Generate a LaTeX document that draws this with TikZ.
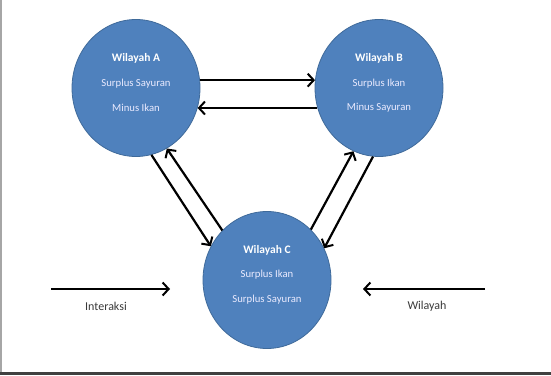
\documentclass[tikz,border=0pt]{standalone}
\usepackage{fontspec}
\setmainfont{Carlito}
\usetikzlibrary{arrows.meta,shapes.geometric}
\definecolor{regfill}{HTML}{4F81BD}
\definecolor{regdraw}{HTML}{3F6A9A}
\definecolor{legtext}{HTML}{3A3A3A}
\tikzset{
  region/.style={ellipse,fill=regfill,draw=regdraw,line width=0.8pt,minimum width=128pt,minimum height=137pt,inner sep=0pt},
  rtitle/.style={text=white,font=\fontsize{11.5}{13}\selectfont\bfseries},
  rline/.style={text=white!92!blue,font=\fontsize{10.7}{12}\selectfont},
  flow/.style={line width=2.2pt,-{Straight Barb[length=6pt,width=13pt,line width=2pt]}},
  legend/.style={text=legtext,font=\fontsize{12}{14}\selectfont}
}
\begin{document}
\begin{tikzpicture}[x=1pt,y=1pt]
\useasboundingbox (0,0) rectangle (551,375);
\fill[white] (0,0) rectangle (551,375);
\fill[gray!70] (0,0) rectangle (1.5,375);
\fill[black!75] (0,0) rectangle (551,3.5);

\node[region] (A) at (136,287) {};
\node[region] (B) at (379,287) {};
\node[region] (C) at (267,95) {};

\node[rtitle] (At) at ([yshift=30pt]A.center) {Wilayah A};
\node[rline] (A1) at ([yshift=4pt]A.center) {Surplus Sayuran};
\node[rline] (A2) at ([yshift=-20pt]A.center) {Minus Ikan};

\node[rtitle] (Bt) at ([yshift=30pt]B.center) {Wilayah B};
\node[rline] (B1) at ([yshift=4pt]B.center) {Surplus Ikan};
\node[rline] (B2) at ([yshift=-20pt]B.center) {Minus Sayuran};

\node[rtitle] (Ct) at ([yshift=30pt]C.center) {Wilayah C};
\node[rline] (C1) at ([yshift=5pt]C.center) {Surplus Ikan};
\node[rline] (C2) at ([yshift=-20pt]C.center) {Surplus Sayuran};

\draw[flow] (A.7) -- (B.173);
\draw[flow] (B.198) -- (A.-18);
\draw[flow] (A.-77) -- (C.149);
\draw[flow] (C.132) -- (A.-63);
\draw[flow] (C.49) -- (B.-112);
\draw[flow] (B.-95) -- (C.29);

\coordinate (i1) at (51,86);
\coordinate (i2) at (170,86);
\coordinate (w1) at (485,86);
\coordinate (w2) at (363,86);
\draw[flow] (i1) -- (i2);
\draw[flow] (w1) -- (w2);
\node[legend] (li) at (106,69) {Interaksi};
\node[legend] (lw) at (427,69) {Wilayah};
\end{tikzpicture}
\end{document}
